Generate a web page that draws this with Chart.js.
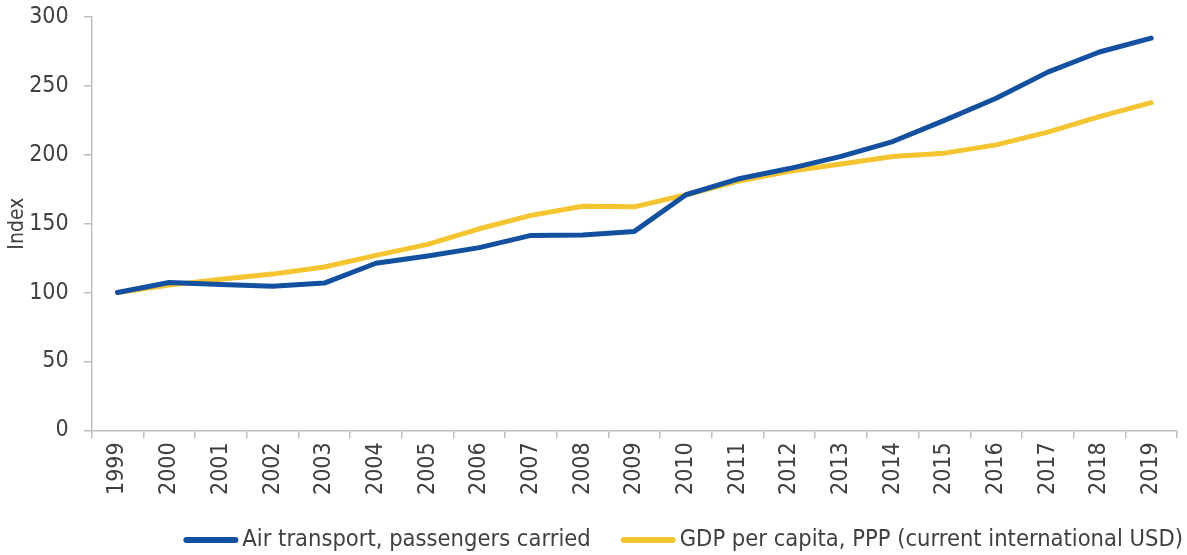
<!DOCTYPE html>
<html>
<head>
<meta charset="utf-8">
<script src="https://cdn.jsdelivr.net/npm/chart.js@4/dist/chart.umd.min.js"></script>
<style>
html,body{margin:0;padding:0;background:#fff;}
#wrap{width:1187px;height:555px;position:relative;}
</style>
</head>
<body>
<div id="wrap"><canvas id="c"></canvas></div>
<script>
const years = ['1999','2000','2001','2002','2003','2004','2005','2006','2007','2008','2009','2010','2011','2012','2013','2014','2015','2016','2017','2018','2019'];
const airPassengers = [100,107.3,105.9,104.5,106.9,121.3,126.6,132.6,141.5,141.7,144.4,171,182.4,190,198.8,209.6,225,241,260,274.6,284.7];
const gdpPerCapita = [100,105.4,109.7,113.4,118.6,127,135,146.3,156,162.7,162.2,171,180.7,188,193.3,198.8,201.2,207.2,216.4,227.7,237.8];
const yTicks = [0,50,100,150,200,250,300];

const FONT = "'DejaVu Sans Condensed', 'DejaVu Sans', sans-serif";
const TXT = '#404040';
const AX = '#bfbfbf';

// Legend drawn below the plot, right-aligned like the original
const bottomLegend = {
  id: 'bottomLegend',
  afterDraw(chart) {
    const ctx = chart.ctx;
    ctx.save();
    ctx.font = '23.5px ' + FONT;
    const items = chart.data.datasets.map(d => ({text: d.label, color: d.borderColor, w: ctx.measureText(d.label).width}));
    const lineW = 55, gapLT = 4, gapItems = 30;
    const total = items.reduce((s, it) => s + lineW + gapLT + it.w, 0) + gapItems * (items.length - 1);
    let x = chart.width - 4 - total;
    const y = chart.height - 15;
    ctx.textBaseline = 'middle';
    ctx.textAlign = 'left';
    items.forEach(it => {
      ctx.strokeStyle = it.color;
      ctx.lineWidth = 6;
      ctx.lineCap = 'round';
      ctx.beginPath();
      ctx.moveTo(x + 3, y);
      ctx.lineTo(x + lineW - 3, y);
      ctx.stroke();
      ctx.fillStyle = TXT;
      ctx.fillText(it.text, x + lineW + gapLT, y);
      x += lineW + gapLT + it.w + gapItems;
    });
    ctx.restore();
  }
};

new Chart(document.getElementById('c'), {
  type: 'line',
  data: {
    labels: years,
    datasets: [
      {label: 'Air transport, passengers carried', data: airPassengers, borderColor: '#1450a0', backgroundColor: '#1450a0', borderWidth: 5, pointRadius: 0, tension: 0, borderCapStyle: 'round', borderJoinStyle: 'round'},
      {label: 'GDP per capita, PPP (current international USD)', data: gdpPerCapita, borderColor: '#f4c431', backgroundColor: '#f4c431', borderWidth: 5, pointRadius: 0, tension: 0, borderCapStyle: 'round', borderJoinStyle: 'round'}
    ]
  },
  plugins: [bottomLegend],
  options: {
    responsive: true,
    maintainAspectRatio: false,
    animation: false,
    layout: {padding: {top: 0, right: 10, left: 5, bottom: 56}},
    plugins: {
      tooltip: {enabled: false},
      legend: {display: false}
    },
    scales: {
      x: {
        offset: true,
        grid: {offset: true, drawOnChartArea: false, color: AX, tickLength: 8, lineWidth: 1.5},
        border: {color: AX, width: 1.5},
        ticks: {font: {family: FONT, size: 23}, color: TXT, maxRotation: 90, minRotation: 90, padding: 4, autoSkip: false}
      },
      y: {
        min: 0, max: 300,
        afterBuildTicks: (s) => { s.ticks = yTicks.map(v => ({value: v})); },
        afterFit: (s) => { s.paddingTop = 17; },
        grid: {drawOnChartArea: false, color: AX, tickLength: 8, lineWidth: 1.5},
        border: {color: AX, width: 1.5},
        ticks: {font: {family: FONT, size: 23}, color: TXT, padding: 15},
        title: {display: true, text: 'Index', font: {family: FONT, size: 21}, color: TXT, padding: {top: 0, bottom: -16}}
      }
    }
  }
});
</script>
</body>
</html>
